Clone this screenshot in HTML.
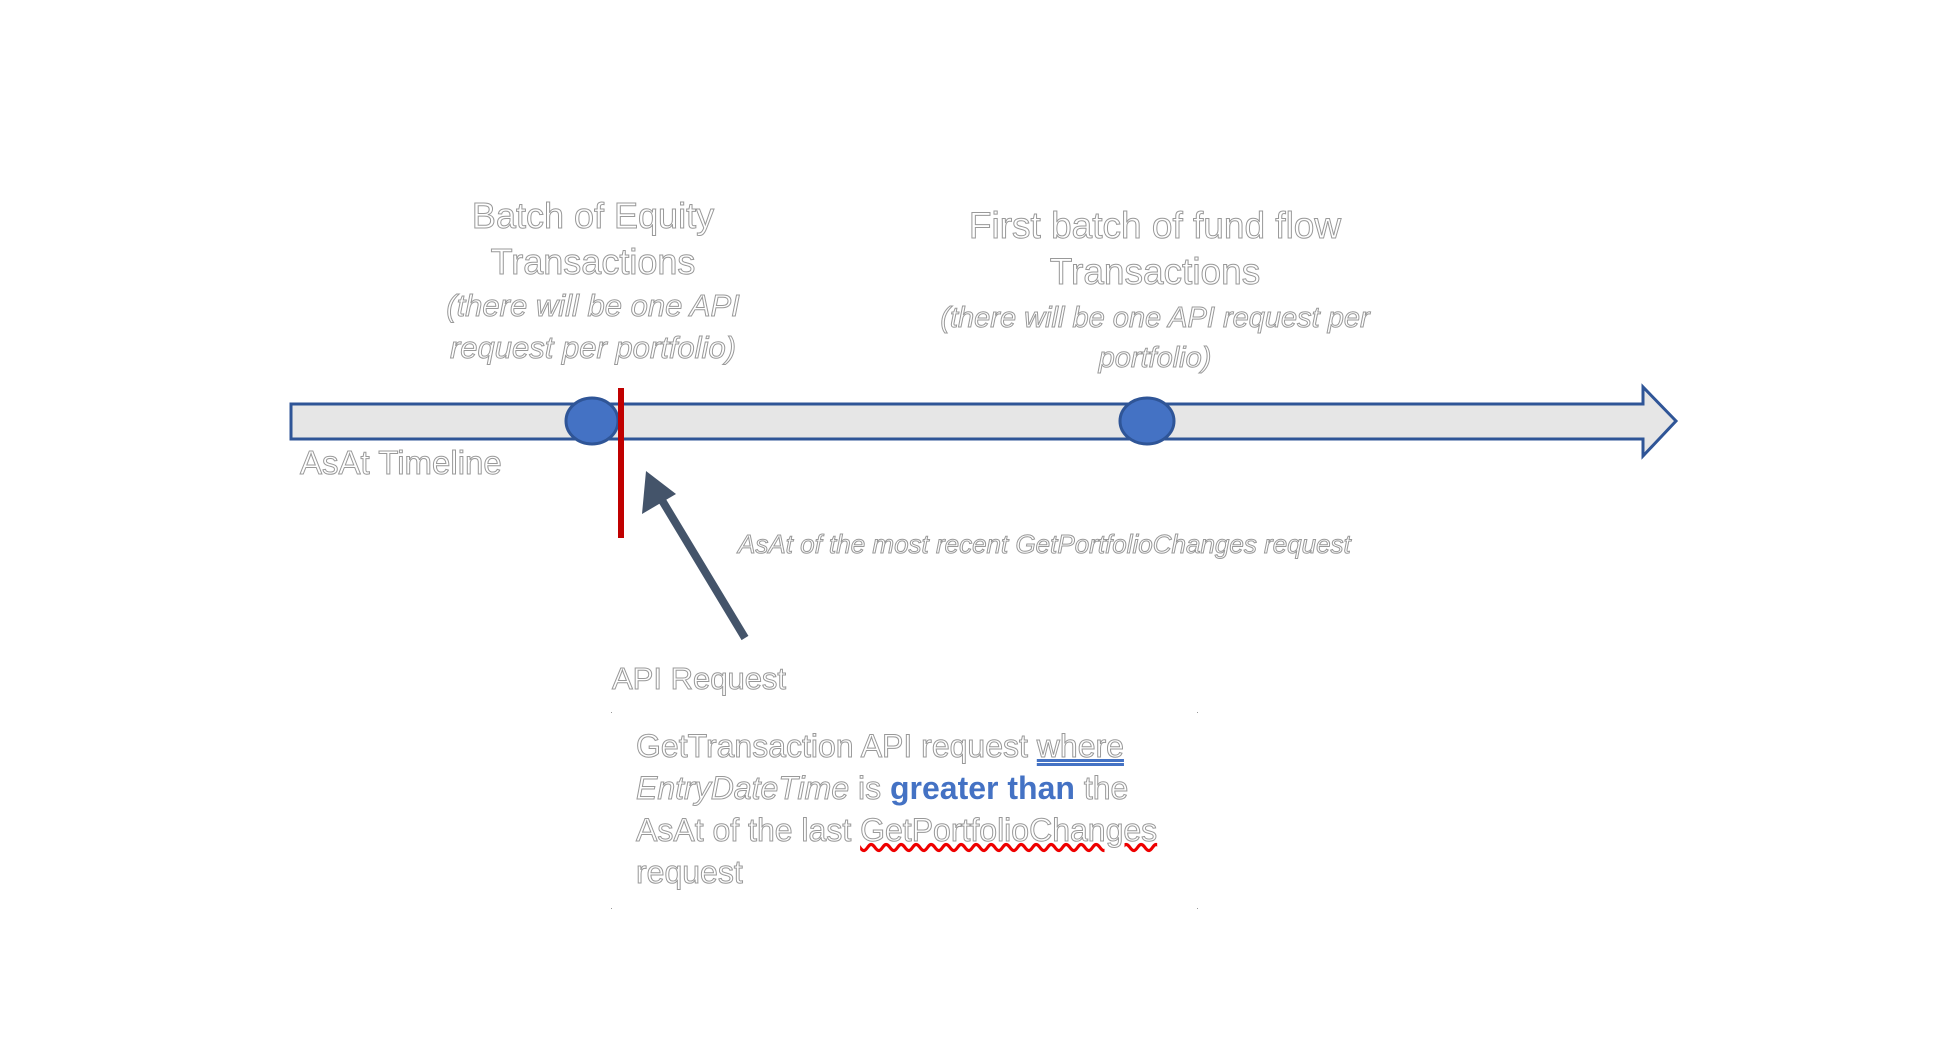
<!DOCTYPE html>
<html><head><style>
body{margin:0;width:1942px;height:1050px;background:#fff;position:relative;overflow:hidden;font-family:"Liberation Sans",sans-serif}
.t{position:absolute;color:#fff;-webkit-text-stroke:1px #999;white-space:nowrap}
.c{transform:translateX(-50%);text-align:center}
.i{font-style:italic}
</style></head><body>
<svg width="1942" height="1050" style="position:absolute;left:0;top:0">
<polygon points="291,404 1643,404 1643,387 1676,421 1643,456 1643,439 291,439" fill="#e6e6e6" stroke="#2f5597" stroke-width="3"/>
<ellipse cx="592" cy="421" rx="26" ry="23" fill="#4472c4" stroke="#2f5597" stroke-width="3"/>
<ellipse cx="1147" cy="421" rx="27" ry="23" fill="#4472c4" stroke="#2f5597" stroke-width="3"/>
<rect x="618" y="388" width="6" height="150" fill="#c00000"/>
<line x1="745" y1="638" x2="660" y2="497" stroke="#44546a" stroke-width="8"/>
<polygon points="646,471 642,514 676,494" fill="#44546a"/>
<g fill="#999"><rect x="611" y="712" width="1" height="1"/><rect x="1197" y="712" width="1" height="1"/><rect x="611" y="908" width="1" height="1"/><rect x="1197" y="908" width="1" height="1"/></g>
</svg>
<div class="t c" style="left:593px;top:193px;font-size:36px;line-height:46px">Batch of Equity<br>Transactions</div>
<div class="t c i" style="left:593px;top:285px;font-size:31px;line-height:42px">(there will be one API<br>request per portfolio)</div>
<div class="t c" style="left:1155px;top:203px;font-size:37px;line-height:46px">First batch of fund flow<br>Transactions</div>
<div class="t c i" style="left:1155px;top:298px;font-size:29px;line-height:40px">(there will be one API request per<br>portfolio)</div>
<div class="t" style="left:300px;top:444px;font-size:33px">AsAt Timeline</div>
<div class="t i" style="left:738px;top:529px;font-size:26px">AsAt of the most recent GetPortfolioChanges request</div>
<div class="t" style="left:612px;top:661px;font-size:31px">API Request</div>
<div class="t" style="left:636px;top:725px;font-size:32px;line-height:42px">GetTransaction API request <span style="text-decoration:underline double #4472c4">where</span><br><i>EntryDateTime</i> is <b style="color:#4472c4;-webkit-text-stroke:0">greater than</b> the<br>AsAt of the last <span style="text-decoration:underline wavy #e00">GetPortfolioChanges</span><br>request</div>
</body></html>
